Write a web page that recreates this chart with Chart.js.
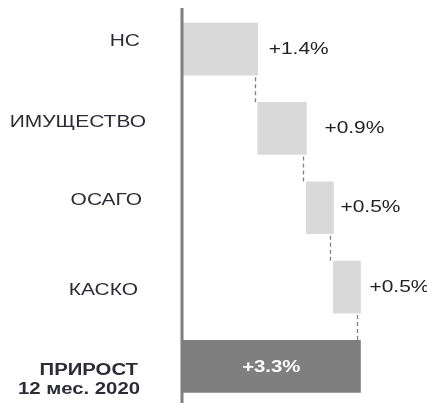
<!DOCTYPE html>
<html>
<head>
<meta charset="utf-8">
<script src="https://cdn.jsdelivr.net/npm/chart.js@4.4.1/dist/chart.umd.min.js"></script>
<style>
  html, body { margin: 0; padding: 0; background: #fff; overflow: hidden; }
  #wrap { width: 427px; height: 406px; }
</style>
</head>
<body>
<div id="wrap"><canvas id="growth-chart" width="427" height="406"></canvas></div>
<script>
const categories = ['НС', 'ИМУЩЕСТВО', 'ОСАГО', 'КАСКО', ['ПРИРОСТ', '12 мес. 2020']];
const increments = [1.4, 0.9, 0.5, 0.5];
const totalGrowth = 3.3;
const valueLabels = ['+1.4%', '+0.9%', '+0.5%', '+0.5%', '+3.3%'];

// floating bars: each step starts where the previous one ended
const ranges = [];
let running = 0;
increments.forEach(v => {
  ranges.push([running, running + v]);
  running += v;
});
ranges.push([0, totalGrowth]);

const barColors = ranges.map((r, i) => i === ranges.length - 1 ? '#7f7f7f' : '#d9d9d9');

const STRETCH = 1.27;           // the source text is drawn wide
const labelRight = [140, 146, 142, 138];
const labelShift = [-8, -6, -7, 3];
const valueGap = [11, 18, 7, 9];

function wideText(ctx, text, x, y, align) {
  ctx.save();
  ctx.translate(x, y);
  ctx.scale(STRETCH, 1);
  ctx.textAlign = align;
  ctx.fillText(text, 0, 0);
  ctx.restore();
}

const waterfallDecor = {
  id: 'waterfallDecor',
  afterDatasetsDraw(chart) {
    const ctx = chart.ctx;
    const meta = chart.getDatasetMeta(0);
    const xScale = chart.scales.x;
    const yScale = chart.scales.y;

    // dashed connectors between steps
    ctx.save();
    ctx.strokeStyle = '#808080';
    ctx.lineWidth = 1.3;
    ctx.setLineDash([4, 3]);
    for (let i = 0; i < meta.data.length - 1; i++) {
      const el = meta.data[i];
      const next = meta.data[i + 1];
      const x = Math.round(xScale.getPixelForValue(ranges[i][1])) - 2.5;
      ctx.beginPath();
      ctx.moveTo(x, el.y + el.height / 2 + 2);
      ctx.lineTo(x, next.y - next.height / 2);
      ctx.stroke();
    }
    ctx.restore();

    // axis line
    const x0 = xScale.getPixelForValue(0);
    ctx.save();
    ctx.strokeStyle = '#7f7f7f';
    ctx.lineWidth = 3;
    ctx.beginPath();
    ctx.moveTo(x0, 8);
    ctx.lineTo(x0, chart.height);
    ctx.stroke();
    ctx.restore();

    // value labels
    ctx.save();
    ctx.textBaseline = 'middle';
    meta.data.forEach((el, i) => {
      if (i === meta.data.length - 1) {
        ctx.fillStyle = '#ffffff';
        ctx.font = 'bold 16px "Liberation Sans", Arial, sans-serif';
        wideText(ctx, valueLabels[i], (el.x + el.base) / 2, el.y + 1, 'center');
      } else {
        ctx.fillStyle = '#222222';
        ctx.font = '16.5px "Liberation Sans", Arial, sans-serif';
        wideText(ctx, valueLabels[i], el.x + valueGap[i], el.y, 'left');
      }
    });

    // category labels
    ctx.fillStyle = '#2c2c36';
    categories.forEach((cat, i) => {
      const yc = yScale.getPixelForValue(i);
      if (Array.isArray(cat)) {
        ctx.font = 'bold 16px "Liberation Sans", Arial, sans-serif';
        wideText(ctx, cat[0], 138, yc + 4, 'right');
        wideText(ctx, cat[1], 140, yc + 23, 'right');
      } else {
        ctx.font = '16.5px "Liberation Sans", Arial, sans-serif';
        wideText(ctx, cat, labelRight[i], yc + labelShift[i], 'right');
      }
    });
    ctx.restore();
  }
};

new Chart(document.getElementById('growth-chart'), {
  type: 'bar',
  data: {
    labels: categories,
    datasets: [{
      data: ranges,
      backgroundColor: barColors,
      borderWidth: 0,
      barThickness: 52
    }]
  },
  options: {
    indexAxis: 'y',
    responsive: false,
    animation: false,
    layout: { padding: { top: 9.5, right: 0, bottom: 0, left: 0 } },
    plugins: {
      legend: { display: false },
      tooltip: { enabled: false }
    },
    scales: {
      x: {
        display: false,
        min: 0,
        max: 4.53
      },
      y: {
        afterFit: s => { s.width = 182; },
        ticks: { display: false },
        grid: { display: false },
        border: { display: false }
      }
    }
  },
  plugins: [waterfallDecor]
});
</script>
</body>
</html>
